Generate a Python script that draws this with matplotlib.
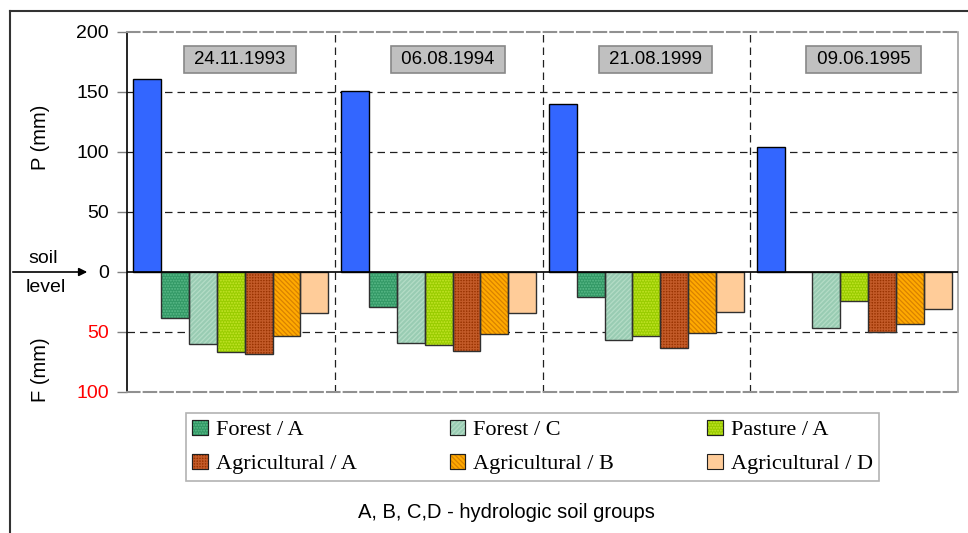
import numpy as np
import matplotlib
matplotlib.use('Agg')
import matplotlib.pyplot as plt
from matplotlib.patches import Patch, FancyArrowPatch
from matplotlib.lines import Line2D

# datos
dates = ['24.11.1993', '06.08.1994', '21.08.1999', '09.06.1995']
precip = [161, 151, 140, 104]
series = ['Forest / A', 'Forest / C', 'Pasture / A',
          'Agricultural / A', 'Agricultural / B', 'Agricultural / D']
forest_a = [38, 29, 21, 0]
forest_c = [60, 59, 57, 47]
pasture_a = [67, 61, 53, 24]
agri_a = [68, 66, 63, 50]
agri_b = [53, 52, 51, 43]
agri_d = [34, 34, 33, 31]
infil = [forest_a, forest_c, pasture_a, agri_a, agri_b, agri_d]

faces = ['#339966', '#99ccb3', '#99cc00', '#993300', '#ffaa00', '#ffcc99']
hatch_cols = ['#5cbb8a', '#b4dcc6', '#c6e62a', '#c25a28', '#d98200', None]
hatches = ['......', '///////', '......', '++++++', '\\\\\\\\\\\\\\', None]

plt.rcParams['font.family'] = ['Liberation Sans', 'DejaVu Sans']
plt.rcParams['hatch.linewidth'] = 0.9

fig = plt.figure(figsize=(9.68, 5.33), dpi=100)
ax = fig.add_axes([127 / 968, 1 - 392 / 533, 831 / 968, 360 / 533])

bw = 0.134
x = np.arange(len(dates))
ax.set_xlim(0, 4)
ax.set_ylim(-100, 200)

# rejilla
dash = (0, (6, 4))
for yv in [150, 100, 50, -50]:
    ax.axhline(yv, color='#202020', lw=0.9, ls=dash, zorder=1)
for xv in [1, 2, 3]:
    ax.axvline(xv, color='#202020', lw=0.9, ls=dash, zorder=1)

# barras de precipitacion
ax.bar(x + 0.5 - 3 * bw, precip, width=bw, color='#3366ff',
       edgecolor='black', lw=1, zorder=3)

# barras de infiltracion (hacia abajo)
for j, vals in enumerate(infil):
    xs = x + 0.5 + (j - 2) * bw
    neg = [-v for v in vals]
    ax.bar(xs, neg, width=bw, color=faces[j], edgecolor='none', lw=0, zorder=3)
    if hatches[j]:
        ax.bar(xs, neg, width=bw, color='none', edgecolor=hatch_cols[j],
               hatch=hatches[j], lw=0, zorder=4)
    ax.bar(xs, neg, width=bw, color='none', edgecolor='#303030', lw=1, zorder=5)

ax.axhline(0, color='black', lw=1.2, zorder=6)

# etiquetas de fechas
for i, d in enumerate(dates):
    ax.text(i + 0.545, 177, ' ' + d + ' ', ha='center', va='center', fontsize=13.4,
            bbox=dict(boxstyle='square,pad=0.28', fc='#c0c0c0', ec='#888888', lw=1.2),
            zorder=7)

# ejes
ax.set_xticks([])
ax.set_yticks([-100, -50, 0, 50, 100, 150, 200])
ax.set_yticklabels(['100', '50', '0', '50', '100', '150', '200'], fontsize=14)
for lab in ax.get_yticklabels()[:2]:
    lab.set_color('red')
ax.tick_params(axis='y', length=7, width=1, color='#808080', pad=6)
ax.spines['left'].set_color('black')
ax.spines['left'].set_linewidth(1.2)
for s in ['top', 'bottom']:
    ax.spines[s].set_color('#909090')
    ax.spines[s].set_linestyle((0, (6, 2)))
    ax.spines[s].set_linewidth(1.5)
ax.spines['right'].set_color('#a0a0a0')
ax.spines['right'].set_linewidth(1.2)

fig.text(41 / 968, 1 - 137 / 533, 'P (mm)', rotation=90, ha='center', va='center', fontsize=14.5)
fig.text(41 / 968, 1 - 370 / 533, 'F (mm)', rotation=90, ha='center', va='center', fontsize=14.5)
fig.text(43 / 968, 1 - 259 / 533, 'soil', ha='center', va='center', fontsize=14)
fig.text(46 / 968, 1 - 287 / 533, 'level', ha='center', va='center', fontsize=14)
fig.add_artist(FancyArrowPatch(
    (10 / 968, 1 - 272 / 533), (90 / 968, 1 - 272 / 533),
    transform=fig.transFigure, arrowstyle='-|>', mutation_scale=12,
    color='black', lw=1.2))

# marco exterior
fig.add_artist(Line2D([10 / 968, 1], [1 - 11 / 533] * 2, transform=fig.transFigure,
                      color='#333333', lw=1.5))
fig.add_artist(Line2D([10 / 968] * 2, [0, 1 - 11 / 533], transform=fig.transFigure,
                      color='#333333', lw=1.5))

# leyenda (orden por filas)
handles = []
for j in range(6):
    base = Patch(facecolor=faces[j], edgecolor='#202020', lw=0.8)
    if hatches[j]:
        over = Patch(facecolor='none', edgecolor=hatch_cols[j], hatch=hatches[j], lw=0)
        frame = Patch(facecolor='none', edgecolor='#202020', lw=0.8)
        handles.append((base, over, frame))
    else:
        handles.append(base)
order = [0, 3, 1, 4, 2, 5]
leg = fig.legend([handles[k] for k in order], [series[k] for k in order],
                 ncol=3, loc='center', bbox_to_anchor=(532.5 / 968, 1 - 447 / 533),
                 prop={'family': 'Liberation Serif', 'size': 16},
                 frameon=True, fancybox=False, edgecolor='#a0a0a0',
                 handlelength=0.7, handleheight=0.7, handletextpad=0.35,
                 columnspacing=4.2, labelspacing=0.62, borderpad=0.3,
                 borderaxespad=0)
leg.get_frame().set_linewidth(1.2)

fig.text(506 / 968, 1 - 512 / 533, 'A, B, C,D - hydrologic soil groups',
         ha='center', va='center', fontsize=14.5)

fig.savefig('out.png', dpi=100)
